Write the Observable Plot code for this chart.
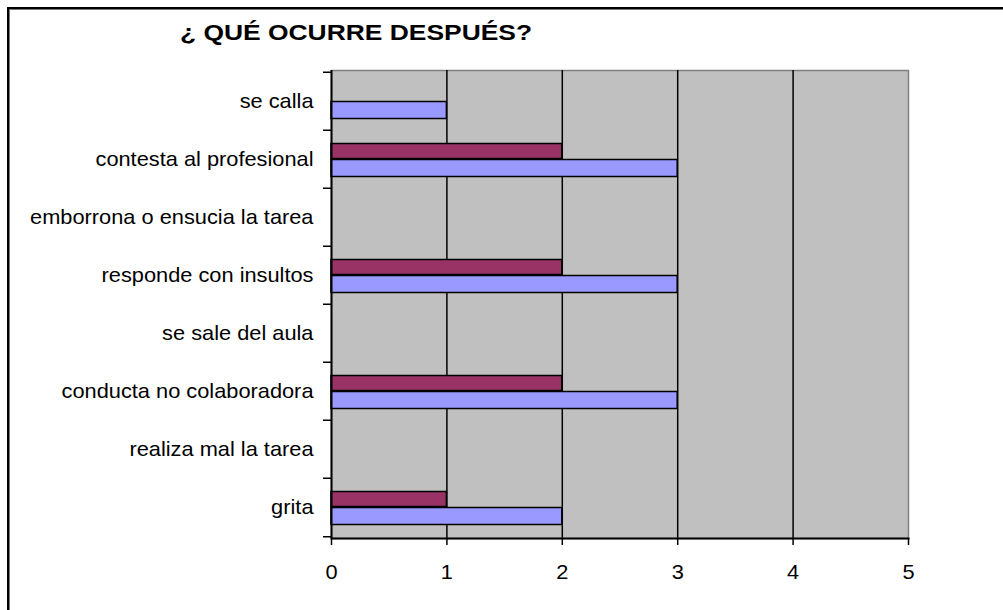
<!DOCTYPE html>
<html>
<head>
<meta charset="utf-8">
<script src="https://cdn.jsdelivr.net/npm/d3@7"></script>
<script src="https://cdn.jsdelivr.net/npm/@observablehq/plot@0.6"></script>
<style>
  html, body { margin: 0; padding: 0; background: #fff; overflow: hidden; }
  #wrap { position: relative; width: 1003px; height: 610px; font-family: "Liberation Sans", Arial, sans-serif; }
  #frame { position: absolute; left: 7px; top: 7px; width: 1100px; height: 700px; border-left: 2px solid #000; border-top: 2px solid #000; box-shadow: 1px 1px 0 #777 inset; }
  #title { position: absolute; left: 180px; top: 20px; font-weight: bold; font-size: 22px; transform: scaleX(1.2); transform-origin: left center; white-space: nowrap; color: #000; }
  #chart { position: absolute; left: 0; top: 0; }
</style>
</head>
<body>
<div id="wrap">
  <div id="frame"></div>
  <div id="chart"></div>
  <div id="title">¿ QUÉ OCURRE DESPUÉS?</div>
</div>
<script>
// Categories, top to bottom
const categories = [
  "se calla",
  "contesta al profesional",
  "emborrona o ensucia la tarea",
  "responde con insultos",
  "se sale del aula",
  "conducta no colaboradora",
  "realiza mal la tarea",
  "grita"
];
const serie1 = [0, 2, 0, 2, 0, 2, 0, 1]; // maroon (upper bar)
const serie2 = [1, 3, 0, 3, 0, 3, 0, 2]; // periwinkle (lower bar)
const xTicks = [0, 1, 2, 3, 4, 5];
const gridValues = [1, 2, 3, 4];

const data1 = categories.map((c, i) => ({cat: c, value: serie1[i]})).filter(d => d.value > 0);
const data2 = categories.map((c, i) => ({cat: c, value: serie2[i]})).filter(d => d.value > 0);

const H = 610, mt = 70, mb = 72;
const band = (H - mt - mb) / categories.length;

const chart = Plot.plot({
  width: 1003,
  height: H,
  marginLeft: 331,
  marginRight: 95,
  marginTop: mt,
  marginBottom: mb,
  style: {fontFamily: "'Liberation Sans', Arial, sans-serif", background: "transparent", color: "#000"},
  x: {domain: [0, 5], axis: null},
  y: {domain: categories, type: "band", paddingInner: 0, paddingOuter: 0, axis: null},
  marks: [
    Plot.frame({fill: "#C0C0C0", stroke: "#808080", strokeWidth: 1.5}),
    Plot.ruleX(gridValues, {stroke: "#000", strokeWidth: 1.5}),
    Plot.barX(data1, {y: "cat", x: "value", fill: "#993366", stroke: "#000", strokeWidth: 1.5, insetTop: 13.5, insetBottom: 29.5}),
    Plot.barX(data2, {y: "cat", x: "value", fill: "#9999FF", stroke: "#000", strokeWidth: 1.5, insetTop: 29.5, insetBottom: 11.5}),
    Plot.ruleX([0], {stroke: "#000", strokeWidth: 2}),
    Plot.frame({anchor: "bottom", stroke: "#000", strokeWidth: 2}),
    Plot.axisX({ticks: xTicks, tickFormat: d => String(d), tickSize: 7, tickPadding: 19, fontSize: 20, stroke: "#000", strokeWidth: 1.5, strokeOpacity: 1, label: null}),
    Plot.axisY({tickSize: 0, tickPadding: 18, fontSize: 20, label: null}),
    Plot.axisY({tickSize: 8, tickFormat: () => "", dy: -band / 2, stroke: "#000", strokeWidth: 1.5, strokeOpacity: 1, label: null}),
    Plot.axisY({ticks: [categories[categories.length - 1]], tickSize: 8, tickFormat: () => "", dy: band / 2, stroke: "#000", strokeWidth: 1.5, strokeOpacity: 1, label: null})
  ]
});

// Stretch text horizontally to match the reference's wide type
const S = 1.09;
chart.querySelectorAll("text").forEach(t => {
  const xa = t.getAttribute("x");
  if (xa !== null && /^-?[\d.]+$/.test(xa)) t.setAttribute("x", (+xa) / S);
  const tr = t.getAttribute("transform") || "";
  t.setAttribute("transform", `${tr} scale(${S},1)`);
});

document.getElementById("chart").appendChild(chart);
</script>
</body>
</html>
